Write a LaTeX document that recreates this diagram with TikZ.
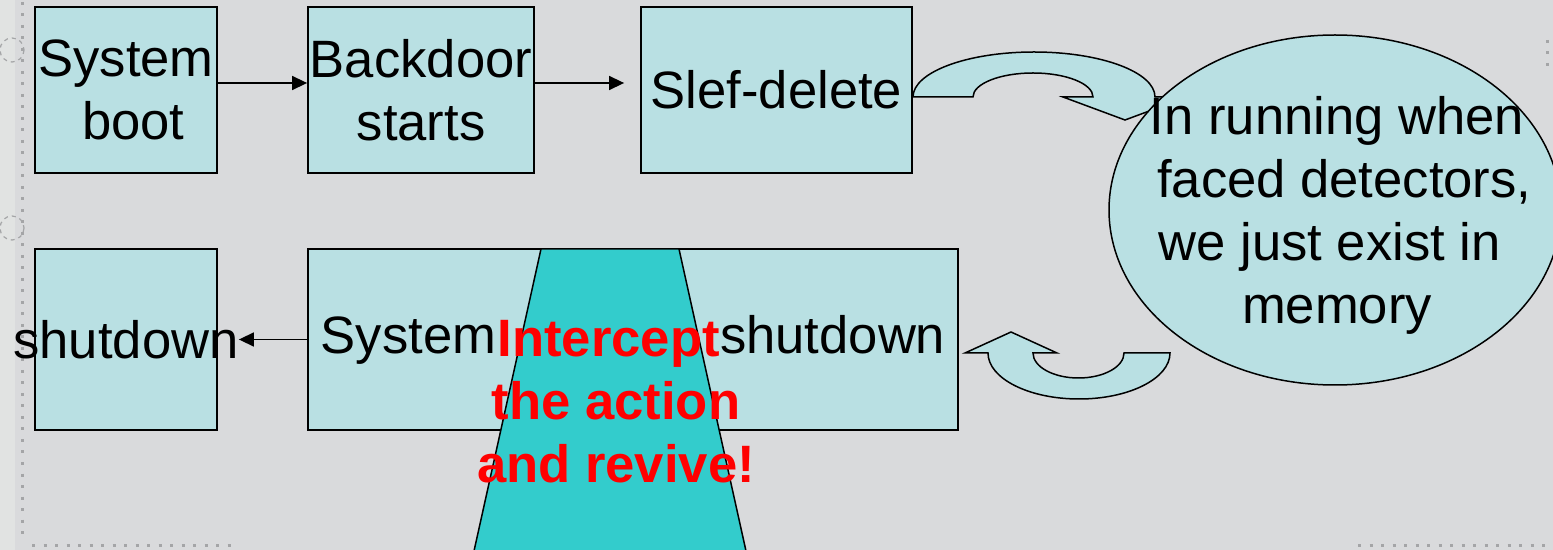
\documentclass[tikz,border=0pt]{standalone}
\usepackage{fontspec}
\setmainfont{Liberation Sans}
\usetikzlibrary{arrows.meta,shapes.geometric}
\definecolor{bg}{HTML}{D9DADC}
\definecolor{boxfill}{HTML}{B9E0E3}
\definecolor{beam}{HTML}{33CCCC}
\definecolor{deco}{HTML}{A4A5A7}
\definecolor{strip}{HTML}{E1E3E2}
\newcommand\diagfont{\fontsize{26.3}{31.5}\selectfont}
% a word space that survives at the start or end of a centred line
\newcommand\gap{\rule{0.278em}{0pt}}

\begin{document}
\begin{tikzpicture}[x=0.5pt,y=-0.5pt,
  box/.style={draw=black,line width=0.9pt,fill=boxfill,inner sep=0pt,
              align=center,font=\diagfont},
  flow/.style={draw=black,line width=0.75pt,
               -{Triangle[length=7.5pt,width=7pt]}},
  curvearrow/.style={draw=black,line width=0.75pt,fill=boxfill,line join=miter},
  dots/.style={draw=deco,line width=1.5pt,dash pattern=on 1.5pt off 4.25pt},
  ring/.style={draw=deco,line width=0.6pt,dash pattern=on 2pt off 2pt}]

% page background with its dotted frame ornaments
\fill[bg] (0,0) rectangle (1553,550);
\useasboundingbox (0,0) rectangle (1553,550);
\fill[strip] (0,0) rectangle (15,550);
\draw[dots] (22,2) -- (22,538);
\draw[dots] (32,545) -- (232,545);
\draw[dots] (1358,545) -- (1553,545);
\draw[dots] (1547,40) -- (1547,66);
\draw[ring] (12,50) circle[radius=12];
\draw[ring] (12,228) circle[radius=12];

% upper flow
\node[box,minimum width=91pt,minimum height=83pt] (boot) at (126,90) {System\\\gap boot};
\node[box,minimum width=113pt,minimum height=83pt] (backdoor) at (421,90) {Backdoor\\starts};
\node[box,minimum width=135.5pt,minimum height=83pt] (selfdel) at (776.5,90) {Slef-delete};
\draw[flow] ([yshift=3.5pt]boot.east) -- ([yshift=3.5pt]backdoor.west);
\draw[flow,shorten >=8pt] ([yshift=3.5pt]backdoor.east) -- ([yshift=3.5pt]selfdel.west);

% curved arrow from self-delete towards the memory bubble
\path[curvearrow] (913,97) -- (973,97)
  arc[start angle=180,end angle=360,x radius=60,y radius=24]
  -- (1063,97) -- (1125,120) -- (1187,97) -- (1155,97)
  arc[start angle=0,end angle=-180,x radius=121,y radius=45] -- cycle;

% memory bubble
\node[ellipse,draw=black,line width=0.75pt,fill=boxfill,inner sep=0pt,
      minimum width=226pt,minimum height=175pt] (memory) at (1335,210) {};
\node[font=\diagfont,align=center,inner sep=0pt] (memtext) at (1337,215)
  {In running when\\\gap faced detectors,\\we just exist in\gap\\memory};

% curved arrow back to the shutdown step
\path[curvearrow] (1170,353) -- (1124,353)
  arc[start angle=0,end angle=180,x radius=45.5,y radius=25]
  -- (1057,353) -- (1011,332) -- (965,353) -- (988,353)
  arc[start angle=180,end angle=0,x radius=91,y radius=46] -- cycle;

% lower flow
\node[box,minimum width=91pt,minimum height=90.5pt] (shutdown) at (126,339.5)
  {\makebox[0pt]{shutdown}};
\node[box,minimum width=325pt,minimum height=90.5pt] (sysshut) at (633,339.5)
  {System\hspace{112pt}shutdown};
\draw[flow,shorten >=10.5pt] (sysshut.west) -- (shutdown.east);

% interception beam and its caption
\path[draw=black,line width=0.75pt,fill=beam]
  (541,249) -- (679,249) -- (746,551) -- (474,551) -- cycle;
\node[font=\diagfont\bfseries,text=red,align=center,inner sep=0pt] (intercept)
  at (616,402) {Intercept\gap\\the action\\and revive!};
\end{tikzpicture}
\end{document}
